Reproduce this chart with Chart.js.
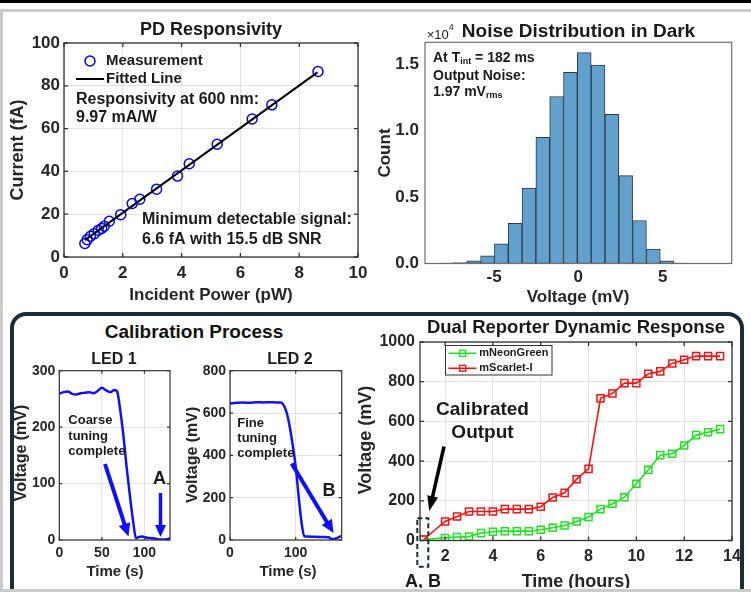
<!DOCTYPE html>
<html>
<head>
<meta charset="utf-8">
<script src="https://cdn.jsdelivr.net/npm/chart.js@4.4.0/dist/chart.umd.min.js"></script>
<style>
body { margin: 0; width: 751px; height: 592px; overflow: hidden; background: #fff; position: relative; font-family: "Liberation Sans", Arial, sans-serif; }
canvas { position: absolute; }
.deco { position: absolute; }
</style>
</head>
<body>
<div class="deco" style="left:0;top:0;width:751px;height:3px;background:#000"></div>
<div class="deco" style="left:0;top:9px;width:751px;height:3px;background:#c9cbcd"></div>
<div class="deco" style="left:0;top:9px;width:3px;height:583px;background:#c9cbcd"></div>
<div class="deco" style="left:10px;top:312px;width:734px;height:320px;border:4px solid #1b2b3a;border-radius:16px;box-sizing:border-box;background:#fff"></div>
<div class="deco" style="left:0;top:589px;width:751px;height:3px;background:#c9cbcd"></div>
<div class="deco" style="left:0;top:320px;width:388px;line-height:24px;text-align:center;font-weight:bold;font-size:19px;color:#111">Calibration Process</div>

<canvas id="c1"></canvas>
<canvas id="c2"></canvas>
<canvas id="c3"></canvas>
<canvas id="c4"></canvas>
<canvas id="c5"></canvas>

<script>
// ---- data ----
// PD responsivity
const powerPW   = [0.71, 0.79, 0.9, 1.03, 1.17, 1.28, 1.37, 1.54, 1.93, 2.32, 2.58, 3.15, 3.86, 4.26, 5.21, 6.4, 7.07, 8.64];
const currentFA = [6.3, 8.1, 9.7, 10.9, 12.5, 13.3, 14.4, 16.7, 19.8, 25.0, 27.0, 31.7, 37.8, 43.6, 52.7, 64.5, 71.1, 86.7];
const fitPW = [0.71, 8.62];
const fitFA = [7.9, 86.3];

// noise histogram (counts x 10^4)
const binCenters = [-7.85, -7.03, -6.21, -5.39, -4.57, -3.75, -2.93, -2.11, -1.29, -0.47, 0.35, 1.17, 1.99, 2.81, 3.63, 4.45, 5.27, 6.09];
const counts1e4  = [0.003, 0.007, 0.02, 0.057, 0.148, 0.303, 0.568, 0.95, 1.258, 1.44, 1.588, 1.495, 1.124, 0.662, 0.324, 0.108, 0.021, 0.004];

// calibration, LED 1 and LED 2
const led1T = [0, 5, 10, 15, 20, 25, 30, 35, 40, 45, 50, 55, 60, 65, 68, 71, 75, 79, 83, 87, 90, 93, 97, 103, 110, 118, 125, 130];
const led1V = [259, 262, 263, 259, 258, 260, 261, 262, 260, 264, 270, 265, 262, 266, 263, 236, 189, 130, 77, 30, 3, 5, 6, 4, 3, 1, 1, 3];
const led2T = [0, 10, 20, 30, 40, 50, 60, 70, 77, 85, 90, 95, 100, 105, 109, 113, 118, 130, 140, 150, 155, 160, 165, 170];
const led2V = [645, 648, 650, 648, 651, 650, 651, 650, 650, 614, 551, 457, 346, 189, 79, 18, 17, 15, 14, 13, 4, 6, 12, 19];

// dual reporter
const hours      = [1.1, 2, 2.5, 3, 3.5, 4, 4.5, 5, 5.5, 6, 6.5, 7, 7.5, 8, 8.5, 9, 9.5, 10, 10.5, 11, 11.5, 12, 12.5, 13, 13.5];
const neonGreen  = [5, 13, 17, 20, 37, 44, 47, 47, 47, 54, 64, 76, 96, 118, 158, 185, 218, 286, 356, 430, 437, 479, 531, 545, 561];
const scarlet    = [5, 96, 121, 146, 146, 146, 158, 158, 158, 170, 217, 240, 309, 361, 716, 741, 793, 793, 840, 852, 892, 911, 929, 929, 929];

const FONT = '"Liberation Sans", Arial, sans-serif';
Chart.defaults.font.family = FONT;
Chart.defaults.font.weight = 'bold';
Chart.defaults.color = '#262626';
Chart.defaults.animation = false;

function xy(xs, ys) { return xs.map((x, i) => ({ x: x, y: ys[i] })); }

function txt(ctx, x, y, segs, size, opt) {
  opt = opt || {};
  if (typeof segs === 'string') segs = [{ t: segs }];
  const w = opt.weight || 'bold';
  ctx.save();
  ctx.fillStyle = opt.color || '#1a1a1a';
  ctx.textBaseline = 'middle';
  ctx.textAlign = 'left';
  ctx.translate(x, y);
  if (opt.rot) ctx.rotate(opt.rot);
  let total = 0;
  segs.forEach(s => {
    ctx.font = w + ' ' + (s.size || size) + 'px ' + FONT;
    s.w = ctx.measureText(s.t).width;
    total += s.w;
  });
  let cx = opt.align === 'left' ? 0 : opt.align === 'right' ? -total : -total / 2;
  segs.forEach(s => {
    ctx.font = w + ' ' + (s.size || size) + 'px ' + FONT;
    ctx.fillText(s.t, cx, s.dy || 0);
    cx += s.w;
  });
  ctx.restore();
}

function arrow(ctx, x1, y1, x2, y2, w, hl, hw, color) {
  const a = Math.atan2(y2 - y1, x2 - x1), L = Math.hypot(x2 - x1, y2 - y1);
  ctx.save();
  ctx.translate(x1, y1);
  ctx.rotate(a);
  ctx.strokeStyle = color;
  ctx.fillStyle = color;
  ctx.lineWidth = w;
  ctx.beginPath(); ctx.moveTo(0, 0); ctx.lineTo(L - hl + 1, 0); ctx.stroke();
  ctx.beginPath(); ctx.moveTo(L, 0); ctx.lineTo(L - hl, -hw / 2); ctx.lineTo(L - hl, hw / 2); ctx.closePath(); ctx.fill();
  ctx.restore();
}

function frame(chart, color, lw, tl) {
  const ctx = chart.ctx, a = chart.chartArea, sx = chart.scales.x, sy = chart.scales.y;
  ctx.save();
  ctx.strokeStyle = color;
  ctx.lineWidth = lw;
  ctx.strokeRect(a.left, a.top, a.right - a.left, a.bottom - a.top);
  ctx.beginPath();
  sx.ticks.forEach(t => {
    const p = sx.getPixelForValue(t.value);
    ctx.moveTo(p, a.bottom); ctx.lineTo(p, a.bottom - tl);
    ctx.moveTo(p, a.top); ctx.lineTo(p, a.top + tl);
  });
  sy.ticks.forEach(t => {
    const p = sy.getPixelForValue(t.value);
    ctx.moveTo(a.left, p); ctx.lineTo(a.left + tl, p);
    ctx.moveTo(a.right, p); ctx.lineTo(a.right - tl, p);
  });
  ctx.stroke();
  ctx.restore();
}

const DECO = {};
const decoPlugin = {
  id: 'deco',
  afterDraw(chart) {
    const d = DECO[chart.canvas.id];
    if (!d) return;
    frame(chart, d.frame[0], d.frame[1], d.frame[2]);
    const ctx = chart.ctx;
    ctx.save();
    ctx.translate(-d.ox, -d.oy);
    d.draw(ctx, chart);
    ctx.restore();
  }
};

function axis(min, max, step, size, pad, grid) {
  return {
    type: 'linear', min: min, max: max,
    border: { display: false },
    grid: { display: grid !== false, color: '#e2e2e2', lineWidth: 1, drawTicks: false },
    ticks: { stepSize: step, includeBounds: false, autoSkip: false, maxRotation: 0,
             font: { size: size, weight: 'bold' }, padding: pad, color: '#262626',
             callback: v => String(v) }
  };
}

function makeChart(id, cv, area, cfg, deco) {
  const el = document.getElementById(id);
  el.width = cv.w; el.height = cv.h;
  el.style.left = cv.x + 'px'; el.style.top = cv.y + 'px';
  const o = cfg.options;
  o.responsive = false;
  o.devicePixelRatio = 1;
  o.layout = { padding: { top: area.t - cv.y, right: cv.x + cv.w - area.r, left: 0, bottom: 0 } };
  o.scales.x.afterFit = s => { s.height = cv.y + cv.h - area.b; s.paddingLeft = 0; s.paddingRight = 0; };
  o.scales.y.afterFit = s => { s.width = area.l - cv.x; s.paddingTop = 0; s.paddingBottom = 0; };
  o.plugins = { legend: { display: false }, tooltip: { enabled: false } };
  deco.ox = cv.x; deco.oy = cv.y;
  DECO[id] = deco;
  cfg.plugins = [decoPlugin];
  return new Chart(el, cfg);
}

const ROT = -Math.PI / 2;

// ---- PD Responsivity ----
makeChart('c1', { x: 4, y: 13, w: 371, h: 295 }, { l: 64, t: 43, r: 358, b: 257 }, {
  type: 'scatter',
  data: { datasets: [
    { label: 'Fitted Line', data: xy(fitPW, fitFA), showLine: true, borderColor: '#000', borderWidth: 2, pointRadius: 0, order: 1 },
    { label: 'Measurement', data: xy(powerPW, currentFA), showLine: false, pointStyle: 'circle', pointRadius: 5,
      pointBorderWidth: 1.5, borderColor: '#0000ff', backgroundColor: 'rgba(0,0,0,0)', order: 2 }
  ] },
  options: { scales: { x: axis(0, 10, 2, 17, 6), y: axis(0, 100, 20, 17, 4) } }
}, {
  frame: ['#333', 1.3, 4],
  draw(ctx) {
    txt(ctx, 211, 30, 'PD Responsivity', 18);
    txt(ctx, 18, 150, 'Current (fA)', 18, { rot: ROT, color: '#262626' });
    txt(ctx, 211, 295, 'Incident Power (pW)', 17, { color: '#262626' });
    // legend
    ctx.save();
    ctx.strokeStyle = '#0000ff'; ctx.lineWidth = 1.5;
    ctx.beginPath(); ctx.arc(90, 61, 5, 0, Math.PI * 2); ctx.stroke();
    ctx.strokeStyle = '#000'; ctx.lineWidth = 2;
    ctx.beginPath(); ctx.moveTo(76, 79); ctx.lineTo(104, 79); ctx.stroke();
    ctx.restore();
    txt(ctx, 106, 61, 'Measurement', 15, { align: 'left' });
    txt(ctx, 106, 79, 'Fitted Line', 15, { align: 'left' });
    txt(ctx, 76, 100, 'Responsivity at 600 nm:', 16, { align: 'left' });
    txt(ctx, 76, 118, '9.97 mA/W', 16, { align: 'left' });
    txt(ctx, 142, 220, 'Minimum detectable signal:', 16, { align: 'left' });
    txt(ctx, 142, 240, '6.6 fA with 15.5 dB SNR', 16, { align: 'left' });
  }
});

// ---- Noise Distribution ----
makeChart('c2', { x: 375, y: 13, w: 376, h: 295 }, { l: 425, t: 42.3, r: 731.7, b: 263.5 }, {
  type: 'bar',
  data: { datasets: [
    { data: xy(binCenters, counts1e4), backgroundColor: '#62a0cd', borderColor: '#2f3a44', borderWidth: 1,
      barPercentage: 1, categoryPercentage: 1, grouped: false, borderSkipped: false }
  ] },
  options: { scales: {
    x: Object.assign(axis(-9.1, 9.1, 5, 17, 4, false), { offset: false }),
    y: (function () { const a = axis(0, 1.666, 0.5, 17, 6, false); a.ticks.callback = v => v.toFixed(1); return a; })()
  } }
}, {
  frame: ['#6e6e6e', 1.2, 0],
  draw(ctx) {
    txt(ctx, 578.5, 31.7, 'Noise Distribution in Dark', 19);
    txt(ctx, 426.7, 35, [{ t: '\u00d710' }, { t: '4', size: 9, dy: -7 }], 13, { align: 'left', weight: 'normal' });
    txt(ctx, 385, 153, 'Count', 17, { rot: ROT, color: '#262626' });
    txt(ctx, 578, 297, 'Voltage (mV)', 17, { color: '#262626' });
    txt(ctx, 433, 58, [{ t: 'At T' }, { t: 'int', size: 9, dy: 4 }, { t: ' = 182 ms' }], 14, { align: 'left' });
    txt(ctx, 433, 76, 'Output Noise:', 14, { align: 'left' });
    txt(ctx, 433, 92, [{ t: '1.97 mV' }, { t: 'rms', size: 9, dy: 4 }], 14, { align: 'left' });
  }
});

// ---- LED 1 ----
const BLUE = '#1010ff';
makeChart('c3', { x: 14, y: 318, w: 172, h: 270 }, { l: 59.3, t: 370.7, r: 170, b: 540 }, {
  type: 'line',
  data: { datasets: [
    { data: xy(led1T, led1V), borderColor: BLUE, borderWidth: 2.5, pointRadius: 0, cubicInterpolationMode: 'monotone' }
  ] },
  options: { scales: { x: axis(0, 130, 50, 14, 5), y: axis(0, 300, 100, 14, 4) } }
}, {
  frame: ['#333', 1.2, 3],
  draw(ctx) {
    txt(ctx, 114, 360, 'LED 1', 16);
    txt(ctx, 21.7, 453, 'Voltage (mV)', 16, { rot: ROT, color: '#262626' });
    txt(ctx, 115, 572, 'Time (s)', 15, { color: '#262626' });
    txt(ctx, 68.3, 420.7, 'Coarse', 13, { align: 'left' });
    txt(ctx, 68.3, 436.7, 'tuning', 13, { align: 'left' });
    txt(ctx, 68.3, 451.7, 'complete', 13, { align: 'left' });
    arrow(ctx, 105, 464, 128.5, 536.5, 4, 13, 12, BLUE);
    arrow(ctx, 160.5, 493, 160.5, 537, 3.5, 12, 11, BLUE);
    txt(ctx, 159.5, 479.5, 'A', 18);
  }
});

// ---- LED 2 ----
makeChart('c4', { x: 186, y: 318, w: 164, h: 270 }, { l: 230, t: 370.7, r: 341.7, b: 540 }, {
  type: 'line',
  data: { datasets: [
    { data: xy(led2T, led2V), borderColor: BLUE, borderWidth: 2.5, pointRadius: 0, cubicInterpolationMode: 'monotone' }
  ] },
  options: { scales: { x: axis(0, 170, 100, 14, 5), y: axis(0, 800, 200, 14, 4) } }
}, {
  frame: ['#333', 1.2, 3],
  draw(ctx) {
    txt(ctx, 290, 360, 'LED 2', 16);
    txt(ctx, 193, 455, 'Voltage (mV)', 16, { rot: ROT, color: '#262626' });
    txt(ctx, 288, 572, 'Time (s)', 15, { color: '#262626' });
    txt(ctx, 237.3, 423, 'Fine', 13, { align: 'left' });
    txt(ctx, 237.3, 438.5, 'tuning', 13, { align: 'left' });
    txt(ctx, 237.3, 453.5, 'complete', 13, { align: 'left' });
    arrow(ctx, 291.7, 463.5, 333.5, 533, 4, 13, 12, BLUE);
    txt(ctx, 329, 491.5, 'B', 18);
  }
});

// ---- Dual reporter ----
const GREEN = '#22e022', RED = '#f21414';
makeChart('c5', { x: 356, y: 318, w: 390, h: 270 }, { l: 420, t: 342, r: 732, b: 540.5 }, {
  type: 'line',
  data: { datasets: [
    { label: 'mNeonGreen', data: xy(hours, neonGreen), borderColor: GREEN, borderWidth: 1.6, pointStyle: 'rect', pointRadius: 5,
      pointBorderWidth: 1.5, pointBackgroundColor: 'rgba(0,0,0,0)', order: 2 },
    { label: 'mScarlet-I', data: xy(hours, scarlet), borderColor: RED, borderWidth: 1.6, pointStyle: 'rect', pointRadius: 5,
      pointBorderWidth: 1.5, pointBackgroundColor: 'rgba(0,0,0,0)', order: 1 }
  ] },
  options: { scales: { x: axis(0.95, 14, 2, 16, 6), y: axis(0, 1000, 200, 16, 5) } }
}, {
  frame: ['#333', 1.3, 4],
  draw(ctx, chart) {
    txt(ctx, 576, 328, 'Dual Reporter Dynamic Response', 18.5);
    txt(ctx, 366, 440, 'Voltage (mV)', 18, { rot: ROT, color: '#262626' });
    txt(ctx, 576, 582, 'Time (hours)', 18, { color: '#262626' });
    txt(ctx, 423, 582, 'A, B', 18);
    txt(ctx, 482.5, 410, 'Calibrated', 19);
    txt(ctx, 482.5, 432.5, 'Output', 19);
    arrow(ctx, 444, 446.5, 429.3, 511, 3.5, 15, 11, '#000');
    ctx.save();
    ctx.strokeStyle = '#1b2b3a'; ctx.lineWidth = 2; ctx.setLineDash([5, 3]);
    ctx.strokeRect(417.3, 518.3, 11, 48.4);
    ctx.restore();
    // legend
    ctx.save();
    ctx.fillStyle = '#fff'; ctx.strokeStyle = '#333'; ctx.lineWidth = 1;
    ctx.fillRect(445, 345, 107, 30); ctx.strokeRect(445.5, 345.5, 106.5, 29.5);
    chart.data.datasets.forEach((ds, i) => {
      const y = 353.3 + i * 15;
      ctx.strokeStyle = ds.borderColor; ctx.lineWidth = 1.6;
      ctx.beginPath(); ctx.moveTo(448.5, y); ctx.lineTo(476.5, y); ctx.stroke();
      ctx.lineWidth = 1.3; ctx.strokeRect(459.7, y - 3, 6, 6);
      txt(ctx, 479.3, y, ds.label, 11, { align: 'left' });
    });
    ctx.restore();
  }
});
</script>
</body>
</html>
